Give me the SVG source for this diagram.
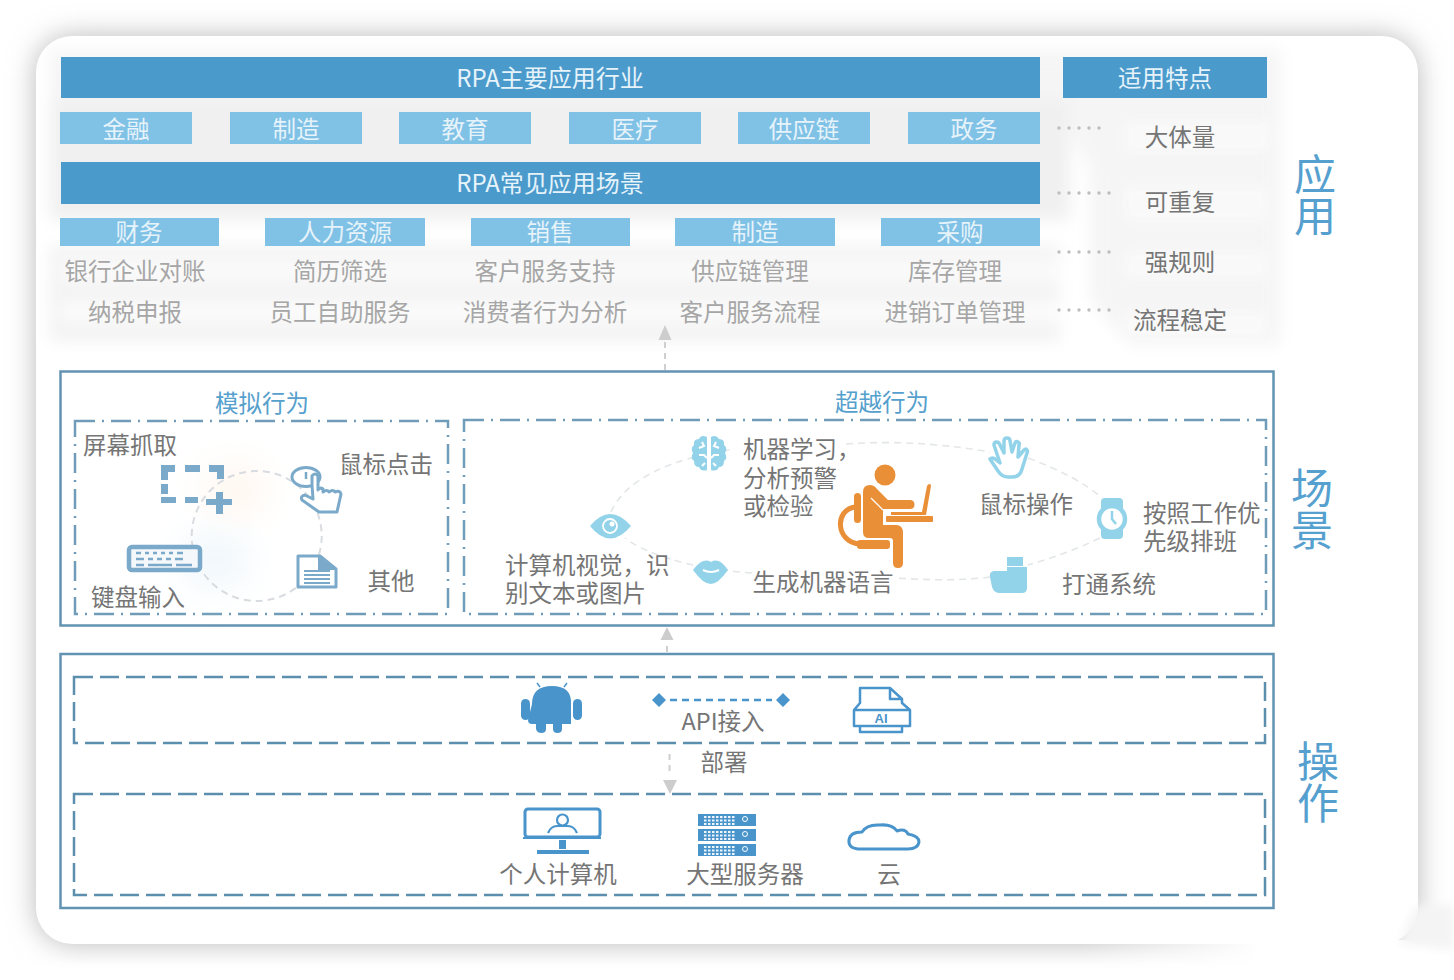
<svg xmlns="http://www.w3.org/2000/svg" width="1454" height="980" viewBox="0 0 1454 980">
<style>
text{font-family:"Noto Sans CJK SC","Noto Sans",sans-serif;font-size:23.5px;font-weight:400;text-anchor:middle}
.w{fill:#e6f3fa}.g{fill:#a6a6a6}.d{fill:#757575}.b{fill:#55a0cd}
.st{text-anchor:start}
.side{font-size:42px;font-weight:400;fill:#55a0cf;writing-mode:vertical-rl;text-anchor:start}
.ttl{font-size:24px}
.bar{fill:#4a9acc}.sub{fill:#80c1e6}
.frame{fill:none;stroke:#6393b2;stroke-width:2.5}
.dd{fill:none;stroke:#6f9cb8;stroke-width:2.5;stroke-dasharray:20 7 2 7}
.da{fill:none;stroke:#5c8fae;stroke-width:2.5;stroke-dasharray:19 7}
.dots{fill:none;stroke:#bdbdbd;stroke-width:3.4;stroke-linecap:round;stroke-dasharray:0 10}
.arr{fill:none;stroke:#cfcfcf;stroke-width:2;stroke-dasharray:6 5}
.ah{fill:#cdcdcd}
.orb{fill:none;stroke:#e3e6e8;stroke-width:1.6;stroke-dasharray:7 5}
.ic1{fill:#7aa9c9}.icl1{fill:none;stroke:#7aa9c9;stroke-width:3;stroke-linejoin:round;stroke-linecap:round}
.ic2{fill:#93d3ea}.icl2{fill:none;stroke:#93d3ea;stroke-width:3.5;stroke-linejoin:round;stroke-linecap:round}
.ic3{fill:#4a94cc}.icl3{fill:none;stroke:#4a94cc;stroke-width:3;stroke-linejoin:round;stroke-linecap:round}
.or{fill:#e98f38}
</style>
<defs>
<filter id="b18" x="-10%" y="-10%" width="120%" height="120%"><feGaussianBlur stdDeviation="14"/></filter>
<filter id="b5" x="-10%" y="-30%" width="120%" height="160%"><feGaussianBlur stdDeviation="5"/></filter>
<filter id="b8" x="-5%" y="-10%" width="110%" height="120%"><feGaussianBlur stdDeviation="8"/></filter>
<filter id="b20" x="-80%" y="-80%" width="260%" height="260%"><feGaussianBlur stdDeviation="18"/></filter>
<linearGradient id="fade" x1="0" x2="1" y1="0" y2="0"><stop offset="0" stop-color="#fff" stop-opacity="0"/><stop offset="1" stop-color="#fff"/></linearGradient>
</defs>
<rect width="1454" height="980" fill="#fff"/>
<g id="card">
<rect x="36" y="36" width="1382" height="908" rx="36" fill="#b9b9b9" filter="url(#b18)"/>
<rect x="1080" y="940" width="180" height="40" fill="url(#fade)"/>
<rect x="1260" y="940" width="194" height="40" fill="#fff"/>
<rect x="0" y="966" width="1454" height="14" fill="#fff" filter="url(#b5)"/>
<rect x="36" y="36" width="1382" height="908" rx="36" fill="#fff"/>
<path d="M1418 905Q1405 925 1400 944L1454 950V905Z" fill="#f4f4f4" filter="url(#b5)"/>
</g>
<g id="haze" filter="url(#b8)">
<path d="M50 50H1280V345H1130L1090 300V170L1060 105H50Z" fill="#f5f5f5"/>
<rect x="50" y="100" width="1020" height="120" fill="#f0f0f0"/>
<rect x="50" y="246" width="1010" height="95" fill="#f2f2f2"/>
<rect x="60" y="258" width="1000" height="26" fill="#fafafa"/>
<rect x="60" y="300" width="1000" height="24" fill="#fbfbfb"/>
</g>
<g id="feature-plates" filter="url(#b5)" opacity="0.9">
<rect x="1125" y="122" width="144" height="30" fill="#fafafa"/>
<rect x="1125" y="187" width="141" height="33" fill="#fafafa"/>
<rect x="1125" y="252" width="141" height="26" fill="#fafafa"/>
<rect x="1125" y="312" width="141" height="25" fill="#fafafa"/>
</g>

<g id="side-labels">
<text class="side" x="1315" y="153">应用</text>
<text class="side" x="1312" y="467">场景</text>
<text class="side" x="1318" y="740">操作</text>
</g>

<g id="industries">
<rect class="bar" x="61" y="57" width="979" height="41"/><text class="w ttl" x="550" y="87">RPA主要应用行业</text>
<rect class="sub" x="60" y="112" width="132" height="32"/><text class="w" x="126" y="138">金融</text>
<rect class="sub" x="230" y="112" width="132" height="32"/><text class="w" x="296" y="138">制造</text>
<rect class="sub" x="399" y="112" width="132" height="32"/><text class="w" x="465" y="138">教育</text>
<rect class="sub" x="569" y="112" width="132" height="32"/><text class="w" x="635" y="138">医疗</text>
<rect class="sub" x="738" y="112" width="132" height="32"/><text class="w" x="804" y="138">供应链</text>
<rect class="sub" x="908" y="112" width="132" height="32"/><text class="w" x="974" y="138">政务</text>
</g>
<g id="scenarios">
<rect class="bar" x="61" y="162" width="979" height="42"/><text class="w ttl" x="550" y="192">RPA常见应用场景</text>
<rect class="sub" x="60" y="218" width="159" height="28"/><text class="w" x="139" y="241">财务</text>
<rect class="sub" x="265" y="218" width="160" height="28"/><text class="w" x="345" y="241">人力资源</text>
<rect class="sub" x="471" y="218" width="159" height="28"/><text class="w" x="550" y="241">销售</text>
<rect class="sub" x="675" y="218" width="160" height="28"/><text class="w" x="755" y="241">制造</text>
<rect class="sub" x="881" y="218" width="159" height="28"/><text class="w" x="960" y="241">采购</text>
<text class="g" x="135" y="280">银行企业对账</text><text class="g" x="340" y="280">简历筛选</text><text class="g" x="545" y="280">客户服务支持</text><text class="g" x="750" y="280">供应链管理</text><text class="g" x="955" y="280">库存管理</text>
<text class="g" x="135" y="321">纳税申报</text><text class="g" x="340" y="321">员工自助服务</text><text class="g" x="545" y="321">消费者行为分析</text><text class="g" x="750" y="321">客户服务流程</text><text class="g" x="955" y="321">进销订单管理</text>
</g>
<g id="features">
<rect class="bar" x="1063" y="57" width="204" height="41"/><text class="w" x="1165" y="87">适用特点</text>
<text class="d" x="1180" y="146">大体量</text><text class="d" x="1180" y="211">可重复</text><text class="d" x="1180" y="271">强规则</text><text class="d" x="1180" y="329">流程稳定</text>
</g>

<g id="connectors">
<path class="dots" d="M1059 128H1100M1059 193H1110M1059 252H1110M1059 310H1110"/>
<path class="arr" d="M665 370V342"/><path class="ah" d="M665 325L671.500 340H658.500Z"/>
<path class="arr" d="M667 652V642"/><path class="ah" d="M667 627L673.500 640H660.500Z"/>
<path class="arr" d="M669.500 754V774"/><path class="ah" d="M670 794L663 780H677Z"/>
</g>

<g id="frame-scene"><rect class="frame" x="60.500" y="371.500" width="1213" height="254"/>
<text class="b" x="262" y="412">模拟行为</text><text class="b" x="882" y="411">超越行为</text>
<rect class="dd" x="75" y="421" width="373" height="193"/><rect class="dd" x="464" y="420" width="802" height="194"/></g>
<g id="frame-ops"><rect class="frame" x="60.500" y="654" width="1213" height="254"/>
<rect class="da" x="74" y="677" width="1191" height="66"/><rect class="da" x="74" y="794" width="1191" height="101"/></g>

<g id="simulate">
<ellipse cx="235" cy="490" rx="30" ry="24" fill="#fef5ec" filter="url(#b20)"/>
<ellipse cx="215" cy="560" rx="34" ry="26" fill="#eef6fb" filter="url(#b20)"/>
<circle cx="256.700" cy="536" r="65" class="orb" style="stroke:#d8dce0;stroke-width:2"/>
<g id="icon-screen"><path class="ic1" d="M161 465h14v7h-7v8h-7zM185 465h15v7h-15zM209 465h15v14h-7v-7h-8zM161 484h7v10h-7zM161 497h7v0h8v6h-15zM185 497h13v6h-13zM216 492h7v7h9v6h-9v9h-7v-9h-10v-6h10z"/></g>
<g id="icon-click"><ellipse cx="306" cy="477" rx="14" ry="9.500" class="icl1" style="fill:#fff"/><path class="icl1" style="fill:#fff" d="M312 485V476q3-4 6 0V490q2-3 5-1v3q4-3 6 0 4-3 6 0 5-2 6 2l-2 9-2 9h-18l-17-12q-2-4 3-5l8 4z"/><path d="M306 472v7" stroke="#7aa9c9" stroke-width="2.500"/></g>
<g id="icon-keyboard"><rect x="129" y="547" width="71" height="23" rx="3" fill="#f4f8fb" stroke="#7aa9c9" stroke-width="4.500"/><path d="M136 553h5m4 0h4m4 0h4m4 0h4m4 0h4m4 0h6M136 559h8m4 0h5m4 0h5m4 0h5m4 0h8M136 565h8m4 0h24m4 0h16" stroke="#7aa9c9" stroke-width="2.500" fill="none"/></g>
<g id="icon-doc"><path class="icl1" style="fill:#fff;stroke-width:3" d="M298 556H320L336 569V587H298z"/><path class="ic1" d="M318 556L336 570H318z"/><path d="M304 571h26M304 575h26M304 579h26M304 583h26" stroke="#7aa9c9" stroke-width="2"/></g>
<text class="d" x="130" y="454">屏幕抓取</text><text class="d" x="386" y="473">鼠标点击</text><text class="d" x="138" y="606">键盘输入</text><text class="d" x="391" y="590">其他</text>
</g>

<g id="beyond">
<path class="orb" d="M611 512C625 480 670 458 735 449M846 444C900 440 950 445 990 452M1028 458C1060 470 1085 483 1102 498M1100 538C1075 550 1055 557 1028 565M990 577C960 581 925 580 896 578M752 573Q735 572 727 570M693 565C670 560 640 550 625 538"/>
<g id="icon-person">
<circle cx="885" cy="475" r="10.500" class="or"/>
<path class="or" d="M863 492q0-7 7-7q4 0 7 4l11 11h22q4.500 0 4.500 4.500t-4.500 4.500h-27v16h13q7 0 7 8v30q0 5-5 5t-5-5V541q0-3-3-3h-21q-6 0-6-6z"/>
<path d="M871 498L883 510" fill="none" stroke="#fff" stroke-width="1.200"/>
<rect x="886" y="516" width="47" height="6" rx="1" class="or"/>
<path class="or" d="M891 512h31l5-26q1-2 2.500-2t1.500 2l-5 29h-35z"/>
<rect x="854" y="493" width="7" height="30" rx="3.500" class="or"/>
<rect x="857" y="540" width="33" height="9" rx="3" class="or"/>
<path d="M855 507C834 510 836 542 859 544" fill="none" stroke="#e98f38" stroke-width="5"/>
</g>
<g id="icon-brain">
<path class="ic2" d="M707 437q-6-3-8 2-6 0-5 6-4 3-1 8-3 5 1 8 0 6 5 6 2 5 8 3zM711 437q5-3 8 2 6 0 5 6 4 3 1 8 3 5-1 8 0 6-5 6-2 5-8 3z"/>
<path d="M702 442l2 4-5 2M699 455h5l3 3M702 466l3-3M716 442l-2 4 5 2M719 455h-5l-3 3M716 466l-3-3" stroke="#fff" stroke-width="2" fill="none"/>
</g>
<g id="icon-eye"><path class="ic2" d="M590 526Q610 502 631 526Q610 551 590 526z"/><circle cx="610" cy="526" r="7" fill="none" stroke="#fff" stroke-width="1.800"/><circle cx="612" cy="524" r="2.500" fill="#fff"/></g>
<g id="icon-lips"><path class="ic2" d="M693 570Q703 557 711 562Q719 557 728 570Q718 584 711 584Q703 584 693 570z"/><path d="M703 570Q711 574 719 570" stroke="#fff" stroke-width="2" fill="none"/></g>
<g id="icon-hand"><path class="icl2" d="M990 459q2-2 5 0l5 4L994 445q0-3 2.500-3t3.500 3l4 8L1004 441q0-3 3-3t3 3l2 11L1015 443q1-2 3-1t1 3l-1 12L1024 450q2-2 3 0t0 3l-5 16q-2 8-10 8h-4q-6 0-10-6z"/></g>
<g id="icon-watch"><rect x="1101" y="498" width="22" height="41" rx="4" class="ic2"/><circle cx="1112" cy="519" r="13" fill="#fff" stroke="#93d3ea" stroke-width="4.500"/><path d="M1112 511v8l4 5" fill="none" stroke="#93d3ea" stroke-width="2.500"/></g>
<g id="icon-connect"><rect x="1007" y="557" width="16" height="9" class="ic2"/><path class="ic2" d="M1007 567h20v21q0 5-5 5h-22q-6 0-8-6l-2-10q-1-5 4-6h13z"/></g>
<text class="d st" x="743" y="458">机器学习，<tspan x="743" dy="28.500">分析预警</tspan><tspan x="743" dy="28">或检验</tspan></text>
<text class="d" x="1026" y="513">鼠标操作</text>
<text class="d st" x="1143" y="522">按照工作优<tspan x="1143" dy="28">先级排班</tspan></text>
<text class="d" x="1109" y="593">打通系统</text><text class="d" x="823" y="591">生成机器语言</text>
<text class="d st" x="505" y="574">计算机视觉，识<tspan x="505" dy="28">别文本或图片</tspan></text>
</g>

<g id="ops-top">
<g id="icon-android"><rect x="521" y="699" width="9" height="21" rx="4.500" class="ic3"/><rect x="573" y="699" width="9" height="21" rx="4.500" class="ic3"/>
<path class="ic3" d="M532 704q0-18 20-18t19 18v20h-9v5q0 4-4.500 4t-4.500-4v-5h-7v5q0 4-4.500 4t-5.500-4v-5h-4q-4 0-4-4z"/>
<path d="M540 687l-3-4M564 687l3-4" stroke="#4a94cc" stroke-width="1.500"/></g>
<path class="ic3" d="M659 693l7 7-7 7-7-7zM783 693l7 7-7 7-7-7z"/>
<path d="M670 700H772" stroke="#4a94cc" stroke-width="2.500" style="stroke-dasharray:7 5"/>
<g id="icon-ai"><path class="icl3" style="stroke-width:2.500" d="M860 703V688H890L902 699V703M890 688V699H902M854 726V710L860 703M910 726V710L902 703M854 710H910V726H854zM860 726V732H902V726"/><text x="881" y="723" style="font-size:13px;font-weight:700;fill:#4a94cc;font-family:'Liberation Sans',sans-serif">AI</text></g>
<text class="d" x="723" y="730">API接入</text><text class="d" x="724" y="771">部署</text>
</g>
<g id="ops-bottom">
<g id="icon-pc"><rect x="525" y="809" width="75" height="28" rx="3" fill="none" stroke="#4a94cc" stroke-width="3"/><path d="M523 838h78" stroke="#4a94cc" stroke-width="2"/><path class="ic3" d="M559 840h7v9h-7zM537 850h52v4h-52z"/><circle cx="562.500" cy="820" r="5.500" fill="none" stroke="#4a94cc" stroke-width="2.200"/><path d="M548 833q3-7 9-7h11q6 0 9 7" fill="none" stroke="#4a94cc" stroke-width="2.200"/></g>
<g id="icon-server"><rect x="698" y="814" width="58" height="12" class="ic3"/><rect x="698" y="829" width="58" height="12" class="ic3"/><rect x="698" y="844" width="58" height="12" class="ic3"/>
<path d="M704 817h32M704 820.500h32M704 824h32M704 832h32M704 835.500h32M704 839h32M704 847h32M704 850.500h32M704 854h32" stroke="#eef6fc" stroke-width="2" stroke-dasharray="2.500 1.500"/><circle cx="745" cy="819" r="2.500" fill="none" stroke="#fff"/><circle cx="745" cy="834" r="2.500" fill="none" stroke="#fff"/><circle cx="745" cy="849" r="2.500" fill="none" stroke="#fff"/></g>
<g id="icon-cloud"><path class="icl3" style="stroke-width:3" d="M858 849Q848 848 849 840Q850 832 862 832Q867 824 880 825Q892 824 897 831Q905 828 908 834Q919 836 919 842Q918 849 908 849z"/></g>
<text class="d" x="558" y="883">个人计算机</text><text class="d" x="745" y="883">大型服务器</text><text class="d" x="889" y="883">云</text>
</g>
</svg>
